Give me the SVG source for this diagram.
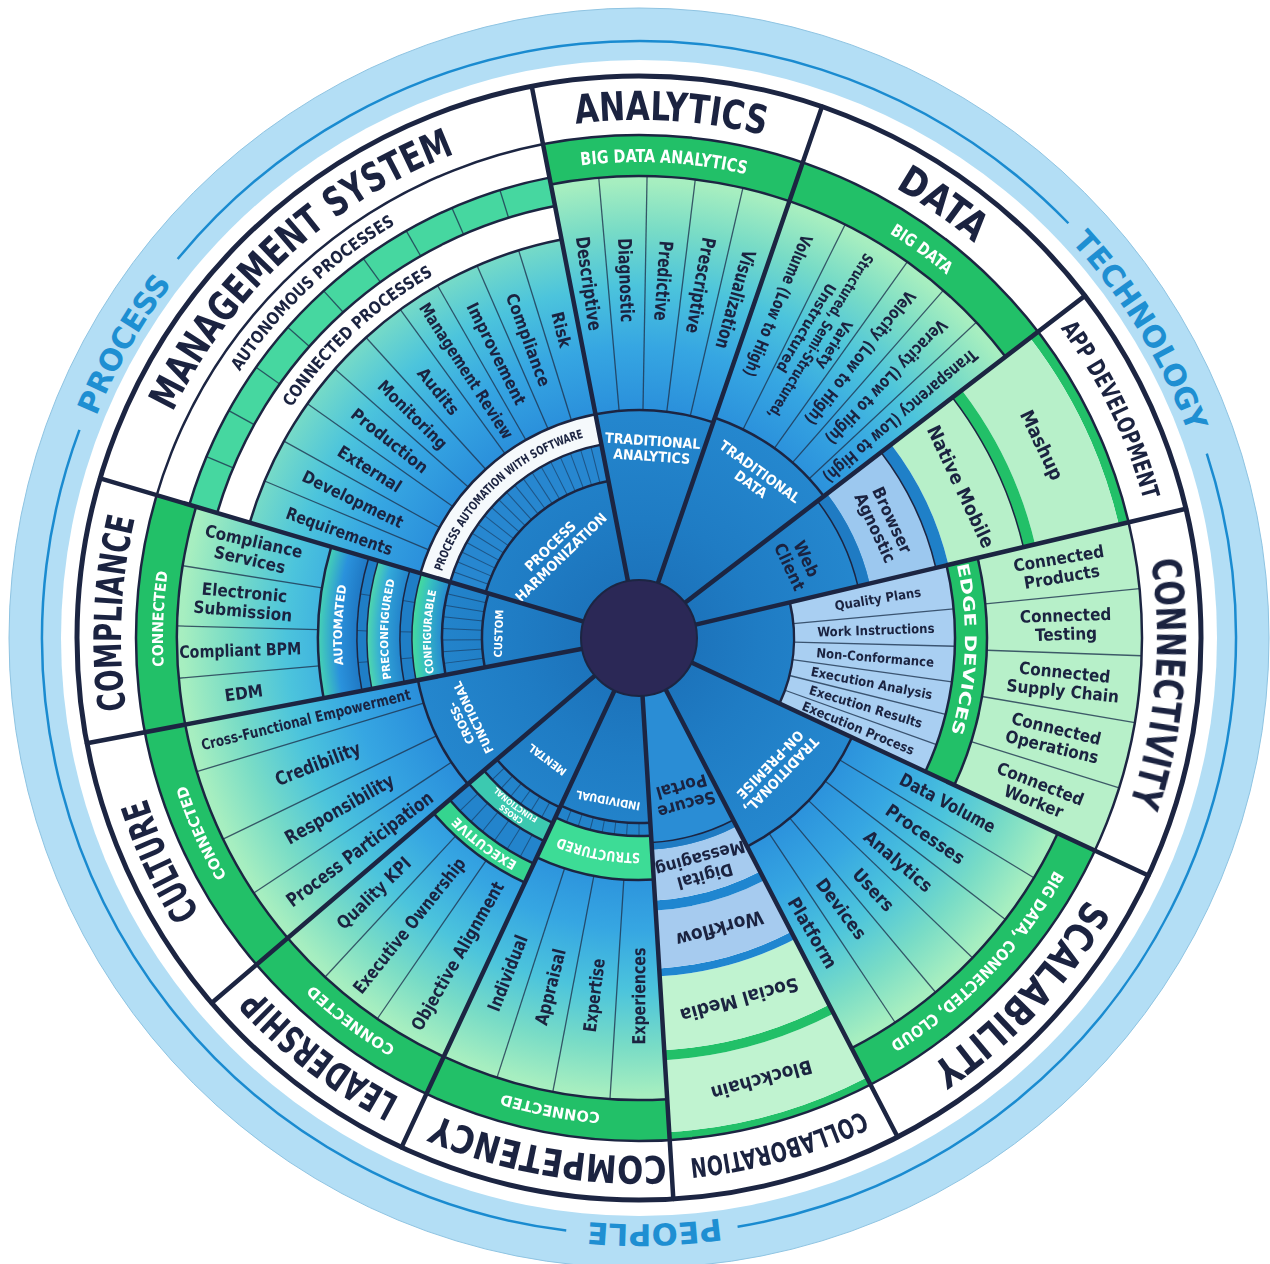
<svg xmlns="http://www.w3.org/2000/svg" width="1270" height="1264" viewBox="0 0 1270 1264">
<style>
.f{font-family:'Liberation Sans Narrow','Arial Narrow','DejaVu Sans Condensed','Roboto Condensed','Liberation Sans',sans-serif;font-weight:bold;font-stretch:condensed}
.cat{fill:#1b2340;font-size:40px;text-anchor:middle}
.sup{fill:#1e8fd2;font-size:30px;text-anchor:middle}
.gb{fill:#fff;font-size:16px;text-anchor:middle}
.nvt{fill:#1b2340;text-anchor:middle}
.it{fill:#1b2340;font-size:17px;text-anchor:middle;dominant-baseline:central}
.wt{fill:#fff;font-size:13px;text-anchor:middle;dominant-baseline:central}
.bd{fill:none}
.sl{stroke:#1c2542;stroke-width:4.5;stroke-linecap:round}
.dl{stroke:#1f3550;stroke-width:1.3;opacity:.8}
.tk{stroke:#1a3f66;stroke-width:1;opacity:.7}
.ra{fill:none;stroke:#1c2542;stroke-width:2.5}
.ra2{fill:none;stroke:#1c2542;stroke-width:1.5}
</style>
<defs>
<radialGradient id="itemG" gradientUnits="userSpaceOnUse" cx="0" cy="0" r="470">
<stop offset="0" stop-color="#1c7cc6"/><stop offset="0.48" stop-color="#2a8fdb"/><stop offset="0.62" stop-color="#36a6e2"/><stop offset="0.75" stop-color="#4cc4dc"/><stop offset="0.87" stop-color="#79dcc6"/><stop offset="0.97" stop-color="#a6eec0"/><stop offset="1" stop-color="#aaf0c2"/>
</radialGradient>
<radialGradient id="innerG" gradientUnits="userSpaceOnUse" cx="0" cy="0" r="240">
<stop offset="0" stop-color="#1a6cb4"/><stop offset="0.5" stop-color="#1f7cc4"/><stop offset="1" stop-color="#2588cf"/>
</radialGradient>
<radialGradient id="autoG" gradientUnits="userSpaceOnUse" cx="0" cy="0" r="321">
<stop offset="0.878" stop-color="#1f78c4"/><stop offset="0.94" stop-color="#2a92dc"/><stop offset="1" stop-color="#46d3b4"/>
</radialGradient>
<radialGradient id="preG" gradientUnits="userSpaceOnUse" cx="0" cy="0" r="272">
<stop offset="0.878" stop-color="#2384cc"/><stop offset="0.95" stop-color="#33a9d9"/><stop offset="1" stop-color="#4fd9ac"/>
</radialGradient>
<radialGradient id="cfgG" gradientUnits="userSpaceOnUse" cx="0" cy="0" r="227">
<stop offset="0.867" stop-color="#2689d2"/><stop offset="0.95" stop-color="#36c0c0"/><stop offset="1" stop-color="#45dc9c"/>
</radialGradient>
<path id="p586" d="M -586 0 A 586 586 0 1 1 586 0 A 586 586 0 1 1 -586 0"/>
<path id="p518" d="M -518 0 A 518 518 0 1 1 518 0 A 518 518 0 1 1 -518 0"/>
<path id="p523" d="M -523 0 A 523 523 0 1 1 523 0 A 523 523 0 1 1 -523 0"/>
<path id="p476" d="M -476 0 A 476 476 0 1 1 476 0 A 476 476 0 1 1 -476 0"/>
<path id="p480" d="M -480 0 A 480 480 0 1 1 480 0 A 480 480 0 1 1 -480 0"/>
<path id="p417" d="M -417 0 A 417 417 0 1 1 417 0 A 417 417 0 1 1 -417 0"/>
<path id="p208" d="M -208 0 A 208 208 0 1 1 208 0 A 208 208 0 1 1 -208 0"/>
<path id="p326" d="M -326 0 A 326 326 0 1 1 326 0 A 326 326 0 1 1 -326 0"/>
<path id="p215" d="M -215 0 A 215 215 0 1 1 215 0 A 215 215 0 1 1 -215 0"/>
<path id="p206" d="M -206 0 A 206 206 0 1 1 206 0 A 206 206 0 1 1 -206 0"/>
<path id="p255" d="M -255 0 A 255 255 0 1 1 255 0 A 255 255 0 1 1 -255 0"/>
<path id="p251" d="M -251 0 A 251 251 0 1 1 251 0 A 251 251 0 1 1 -251 0"/>
<path id="p297" d="M -297 0 A 297 297 0 1 1 297 0 A 297 297 0 1 1 -297 0"/>
</defs>
<g transform="translate(639 638)">
<g id="frame">
<circle r="630" fill="#b3def5" stroke="#8fc4e2" stroke-width="1"/>
<circle r="578" fill="#ffffff"/>
<circle r="562" fill="#ffffff" stroke="#1c2542" stroke-width="5"/>
<circle r="240" fill="url(#innerG)"/>
<circle class="bd" r="597" stroke="#1a8bd0" stroke-width="2.5" pathLength="360" stroke-dasharray="96.6 360" transform="rotate(219.4)"/>
<circle class="bd" r="597" stroke="#1a8bd0" stroke-width="2.5" pathLength="360" stroke-dasharray="98.5 360" transform="rotate(-18)"/>
<circle class="bd" r="597" stroke="#1a8bd0" stroke-width="2.5" pathLength="360" stroke-dasharray="103.4 360" transform="rotate(97)"/>
<text class="f sup" transform="rotate(299.7)"><textPath href="#p586" startOffset="25%" textLength="153" lengthAdjust="spacingAndGlyphs">PROCESS</textPath></text>
<text class="f sup" transform="rotate(58.5)"><textPath href="#p586" startOffset="25%" textLength="225" lengthAdjust="spacingAndGlyphs">TECHNOLOGY</textPath></text>
<text class="f sup" transform="rotate(178.5)"><textPath href="#p586" startOffset="25%" textLength="133" lengthAdjust="spacingAndGlyphs">PEOPLE</textPath></text>
</g>

<g id="management-system">
<circle class="bd" r="454.5" stroke="#46d7a0" stroke-width="29" pathLength="360" stroke-dasharray="62.5 360" transform="rotate(196.5)"/>
<circle class="bd" r="317" stroke="url(#itemG)" stroke-width="178" pathLength="360" stroke-dasharray="62.5 360" transform="rotate(196.5)"/>
<circle class="bd" r="212.5" stroke="#f5f9fc" stroke-width="31" pathLength="360" stroke-dasharray="62.5 360" transform="rotate(196.5)"/>
<circle class="bd" r="178.5" stroke="#2787d0" stroke-width="37" pathLength="360" stroke-dasharray="62.5 360" transform="rotate(196.5)"/>
<g class="dl">
<line y1="-228" y2="-406" transform="rotate(292.75)"/><line y1="-228" y2="-406" transform="rotate(299)"/><line y1="-228" y2="-406" transform="rotate(305.25)"/><line y1="-228" y2="-406" transform="rotate(311.5)"/><line y1="-228" y2="-406" transform="rotate(317.75)"/><line y1="-228" y2="-406" transform="rotate(324)"/><line y1="-228" y2="-406" transform="rotate(330.25)"/><line y1="-228" y2="-406" transform="rotate(336.5)"/><line y1="-228" y2="-406" transform="rotate(342.75)"/>
<line y1="-440" y2="-469" transform="rotate(292.75)"/><line y1="-440" y2="-469" transform="rotate(299)"/><line y1="-440" y2="-469" transform="rotate(305.25)"/><line y1="-440" y2="-469" transform="rotate(311.5)"/><line y1="-440" y2="-469" transform="rotate(317.75)"/><line y1="-440" y2="-469" transform="rotate(324)"/><line y1="-440" y2="-469" transform="rotate(330.25)"/><line y1="-440" y2="-469" transform="rotate(336.5)"/><line y1="-440" y2="-469" transform="rotate(342.75)"/>
</g>
<g class="tk">
<line y1="-160" y2="-197" transform="rotate(289.625)"/><line y1="-160" y2="-197" transform="rotate(292.75)"/><line y1="-160" y2="-197" transform="rotate(295.875)"/><line y1="-160" y2="-197" transform="rotate(299)"/><line y1="-160" y2="-197" transform="rotate(302.125)"/><line y1="-160" y2="-197" transform="rotate(305.25)"/><line y1="-160" y2="-197" transform="rotate(308.375)"/><line y1="-160" y2="-197" transform="rotate(311.5)"/><line y1="-160" y2="-197" transform="rotate(314.625)"/><line y1="-160" y2="-197" transform="rotate(317.75)"/><line y1="-160" y2="-197" transform="rotate(320.875)"/><line y1="-160" y2="-197" transform="rotate(324)"/><line y1="-160" y2="-197" transform="rotate(327.125)"/><line y1="-160" y2="-197" transform="rotate(330.25)"/><line y1="-160" y2="-197" transform="rotate(333.375)"/><line y1="-160" y2="-197" transform="rotate(336.5)"/><line y1="-160" y2="-197" transform="rotate(339.625)"/><line y1="-160" y2="-197" transform="rotate(342.75)"/><line y1="-160" y2="-197" transform="rotate(345.875)"/>
</g>
<circle class="ra" r="469" pathLength="360" stroke-dasharray="62.5 360" transform="rotate(196.5)"/>
<circle class="ra" r="440" pathLength="360" stroke-dasharray="62.5 360" transform="rotate(196.5)"/>
<circle class="ra" r="406" pathLength="360" stroke-dasharray="62.5 360" transform="rotate(196.5)"/>
<circle class="ra" r="228" pathLength="360" stroke-dasharray="62.5 360" transform="rotate(196.5)"/>
<circle class="ra" r="197" pathLength="360" stroke-dasharray="62.5 360" transform="rotate(196.5)"/>
<circle class="ra" r="160" pathLength="360" stroke-dasharray="62.5 360" transform="rotate(196.5)"/>
<text class="f cat" transform="rotate(317.5)"><textPath href="#p518" startOffset="25%" textLength="392" lengthAdjust="spacingAndGlyphs">MANAGEMENT SYSTEM</textPath></text>
<text class="f nvt" style="font-size:17px" transform="rotate(316.6)"><textPath href="#p480" startOffset="25%" textLength="216" lengthAdjust="spacingAndGlyphs">AUTONOMOUS PROCESSES</textPath></text>
<text class="f nvt" style="font-size:17px" transform="rotate(317)"><textPath href="#p417" startOffset="25%" textLength="196" lengthAdjust="spacingAndGlyphs">CONNECTED PROCESSES</textPath></text>
<text class="f nvt" style="font-size:12px" transform="rotate(316.6)"><textPath href="#p208" startOffset="25%" textLength="203" lengthAdjust="spacingAndGlyphs">PROCESS AUTOMATION WITH SOFTWARE</textPath></text>
<text class="f it" textLength="112" lengthAdjust="spacingAndGlyphs" transform="rotate(289.625) translate(0 -318) rotate(90)">Requirements</text>
<text class="f it" textLength="110" lengthAdjust="spacingAndGlyphs" transform="rotate(295.875) translate(0 -318) rotate(90)">Development</text>
<text class="f it" transform="rotate(302.125) translate(0 -318) rotate(90)">External</text>
<text class="f it" textLength="93" lengthAdjust="spacingAndGlyphs" transform="rotate(308.375) translate(0 -318) rotate(90)">Production</text>
<text class="f it" textLength="90" lengthAdjust="spacingAndGlyphs" transform="rotate(314.625) translate(0 -318) rotate(90)">Monitoring</text>
<text class="f it" transform="rotate(320.875) translate(0 -318) rotate(90)">Audits</text>
<text class="f it" textLength="158" lengthAdjust="spacingAndGlyphs" transform="rotate(327.125) translate(0 -318) rotate(90)">Management Review</text>
<text class="f it" textLength="112" lengthAdjust="spacingAndGlyphs" transform="rotate(333.375) translate(0 -318) rotate(90)">Improvement</text>
<text class="f it" textLength="98" lengthAdjust="spacingAndGlyphs" transform="rotate(339.625) translate(0 -318) rotate(90)">Compliance</text>
<text class="f it" transform="rotate(345.875) translate(0 -318) rotate(90)">Risk</text>
<text class="f wt" style="font-size:14px" transform="rotate(316) translate(0 -120)"><tspan x="0" dy="-0.55em">PROCESS</tspan><tspan x="0" dy="1.1em">HARMONIZATION</tspan></text>
</g>

<g id="analytics">
<circle class="bd" r="482.5" stroke="#22c068" stroke-width="41" pathLength="360" stroke-dasharray="30 360" transform="rotate(-101)"/>
<circle class="bd" r="345" stroke="url(#itemG)" stroke-width="234" pathLength="360" stroke-dasharray="30 360" transform="rotate(-101)"/>
<g class="dl"><line y1="-228" y2="-462" transform="rotate(-5)"/><line y1="-228" y2="-462" transform="rotate(1)"/><line y1="-228" y2="-462" transform="rotate(7)"/><line y1="-228" y2="-462" transform="rotate(13)"/></g>
<circle class="ra" r="462" pathLength="360" stroke-dasharray="30 360" transform="rotate(-101)"/>
<circle class="ra" r="228" pathLength="360" stroke-dasharray="30 360" transform="rotate(-101)"/>
<text class="f cat" transform="rotate(3.5)"><textPath href="#p518" startOffset="25%" textLength="190" lengthAdjust="spacingAndGlyphs">ANALYTICS</textPath></text>
<text class="f gb" style="font-size:18px" transform="rotate(3)"><textPath href="#p476" startOffset="25%" textLength="166" lengthAdjust="spacingAndGlyphs">BIG DATA ANALYTICS</textPath></text>
<text class="f it" style="font-size:19px" textLength="95" lengthAdjust="spacingAndGlyphs" transform="rotate(-8) translate(0 -358) rotate(90)">Descriptive</text>
<text class="f it" style="font-size:19px" textLength="84" lengthAdjust="spacingAndGlyphs" transform="rotate(-2) translate(0 -358) rotate(90)">Diagnostic</text>
<text class="f it" style="font-size:19px" textLength="80" lengthAdjust="spacingAndGlyphs" transform="rotate(4) translate(0 -358) rotate(90)">Predictive</text>
<text class="f it" style="font-size:19px" textLength="97" lengthAdjust="spacingAndGlyphs" transform="rotate(10) translate(0 -358) rotate(90)">Prescriptive</text>
<text class="f it" style="font-size:19px" textLength="102" lengthAdjust="spacingAndGlyphs" transform="rotate(16) translate(0 -352) rotate(90)">Visualization</text>
<text class="f wt" style="font-size:14px" transform="rotate(4) translate(0 -190)"><tspan x="0" dy="-0.55em">TRADITIONAL</tspan><tspan x="0" dy="1.1em">ANALYTICS</tspan></text>
</g>

<g id="data">
<circle class="bd" r="482.5" stroke="#22c068" stroke-width="41" pathLength="360" stroke-dasharray="33.5 360" transform="rotate(-71)"/>
<circle class="bd" r="347.5" stroke="url(#itemG)" stroke-width="229" pathLength="360" stroke-dasharray="33.5 360" transform="rotate(-71)"/>
<g class="dl"><line y1="-233" y2="-462" transform="rotate(26.5)"/><line y1="-233" y2="-462" transform="rotate(35.5)"/><line y1="-233" y2="-462" transform="rotate(41.2)"/><line y1="-233" y2="-462" transform="rotate(46.9)"/></g>
<circle class="ra" r="462" pathLength="360" stroke-dasharray="33.5 360" transform="rotate(-71)"/>
<circle class="ra" r="233" pathLength="360" stroke-dasharray="33.5 360" transform="rotate(-71)"/>
<text class="f cat" transform="rotate(35)"><textPath href="#p518" startOffset="25%" textLength="97" lengthAdjust="spacingAndGlyphs">DATA</textPath></text>
<text class="f gb" style="font-size:17px" transform="rotate(36)"><textPath href="#p476" startOffset="25%" textLength="71" lengthAdjust="spacingAndGlyphs">BIG DATA</textPath></text>
<text class="f it" style="font-size:17px" textLength="152" lengthAdjust="spacingAndGlyphs" transform="rotate(22.75) translate(0 -360) rotate(90)">Volume (Low to High)</text>
<text class="f it" style="font-size:15px" transform="rotate(31) translate(0 -352) rotate(90)"><tspan x="0" dy="-1.1em">Variety</tspan><tspan x="0" dy="1.1em" textLength="190" lengthAdjust="spacingAndGlyphs">Structured, Semi-Structured,</tspan><tspan x="0" dy="1.1em">Unstructured</tspan></text>
<text class="f it" style="font-size:17px" textLength="166" lengthAdjust="spacingAndGlyphs" transform="rotate(38.35) translate(0 -357) rotate(90)">Velocity (Low to High)</text>
<text class="f it" style="font-size:17px" textLength="166" lengthAdjust="spacingAndGlyphs" transform="rotate(44.05) translate(0 -356) rotate(90)">Veracity (Low to High)</text>
<text class="f it" style="font-size:17px" textLength="196" lengthAdjust="spacingAndGlyphs" transform="rotate(49.7) translate(0 -343) rotate(90)">Transparency (Low to High)</text>
<text class="f wt" style="font-size:14px" transform="rotate(36) translate(0 -198)"><tspan x="0" dy="-0.55em">TRADITIONAL</tspan><tspan x="0" dy="1.1em">DATA</tspan></text>
</g>

<g id="app-development">
<circle class="bd" r="498" stroke="#22c068" stroke-width="10" pathLength="360" stroke-dasharray="24.2 360" transform="rotate(-37.5)"/>
<circle class="bd" r="450" stroke="#b7f0c9" stroke-width="86" pathLength="360" stroke-dasharray="24.2 360" transform="rotate(-37.5)"/>
<circle class="bd" r="401" stroke="#22c068" stroke-width="12" pathLength="360" stroke-dasharray="24.2 360" transform="rotate(-37.5)"/>
<circle class="bd" r="356.5" stroke="#b7f0c9" stroke-width="77" pathLength="360" stroke-dasharray="24.2 360" transform="rotate(-37.5)"/>
<circle class="bd" r="311.5" stroke="#1f80c8" stroke-width="13" pathLength="360" stroke-dasharray="24.2 360" transform="rotate(-37.5)"/>
<circle class="bd" r="271" stroke="#9cc8ef" stroke-width="68" pathLength="360" stroke-dasharray="24.2 360" transform="rotate(-37.5)"/>
<circle class="bd" r="231" stroke="#1f7bc3" stroke-width="12" pathLength="360" stroke-dasharray="24.2 360" transform="rotate(-37.5)"/>
<circle class="ra2" r="395" pathLength="360" stroke-dasharray="24.2 360" transform="rotate(-37.5)"/>
<circle class="ra2" r="305" pathLength="360" stroke-dasharray="24.2 360" transform="rotate(-37.5)"/>
<circle class="ra2" r="225" pathLength="360" stroke-dasharray="24.2 360" transform="rotate(-37.5)"/>
<text class="f nvt" style="font-size:24px" transform="rotate(64.2)"><textPath href="#p523" startOffset="25%" textLength="192" lengthAdjust="spacingAndGlyphs">APP DEVELOPMENT</textPath></text>
<text class="f it" style="font-size:19px" transform="rotate(64.4) translate(0 -447)">Mashup</text>
<text class="f it" style="font-size:19px" transform="rotate(64.8) translate(0 -356)">Native Mobile</text>
<text class="f it" style="font-size:17px" transform="rotate(65) translate(0 -270)"><tspan x="0" dy="-0.55em">Browser</tspan><tspan x="0" dy="1.1em">Agnostic</tspan></text>
<text class="f it" style="font-size:17px" transform="rotate(64.7) translate(0 -176)"><tspan x="0" dy="-0.55em">Web</tspan><tspan x="0" dy="1.1em">Client</tspan></text>
</g>

<g id="connectivity">
<circle class="bd" r="425.5" stroke="#b7f0c9" stroke-width="155" pathLength="360" stroke-dasharray="38.3 360" transform="rotate(-13.3)"/>
<circle class="bd" r="332" stroke="#22c068" stroke-width="32" pathLength="360" stroke-dasharray="38.3 360" transform="rotate(-13.3)"/>
<circle class="bd" r="235.5" stroke="#a9cff2" stroke-width="161" pathLength="360" stroke-dasharray="38.3 360" transform="rotate(-13.3)"/>
<g class="dl"><line y1="-348" y2="-503" transform="rotate(84.36)"/><line y1="-348" y2="-503" transform="rotate(92.02)"/><line y1="-348" y2="-503" transform="rotate(99.68)"/><line y1="-348" y2="-503" transform="rotate(107.34)"/>
<line y1="-155" y2="-316" transform="rotate(84.7)"/><line y1="-155" y2="-316" transform="rotate(91.5)"/><line y1="-155" y2="-316" transform="rotate(98)"/><line y1="-155" y2="-316" transform="rotate(104)"/><line y1="-155" y2="-316" transform="rotate(109.7)"/></g>
<circle class="ra" r="348" pathLength="360" stroke-dasharray="38.3 360" transform="rotate(-13.3)"/>
<circle class="ra" r="316" pathLength="360" stroke-dasharray="38.3 360" transform="rotate(-13.3)"/>
<circle class="ra" r="155" pathLength="360" stroke-dasharray="38.3 360" transform="rotate(-13.3)"/>
<text class="f cat" transform="rotate(95)"><textPath href="#p518" startOffset="25%" textLength="247" lengthAdjust="spacingAndGlyphs">CONNECTIVITY</textPath></text>
<text class="f gb" transform="rotate(92)"><textPath href="#p326" startOffset="25%" textLength="171" lengthAdjust="spacingAndGlyphs">EDGE DEVICES</textPath></text>
<text class="f it" transform="rotate(80.5) translate(0 -427) rotate(-90)"><tspan x="0" dy="-0.55em">Connected</tspan><tspan x="0" dy="1.1em">Products</tspan></text>
<text class="f it" transform="rotate(88.2) translate(0 -427) rotate(-90)"><tspan x="0" dy="-0.55em">Connected</tspan><tspan x="0" dy="1.1em">Testing</tspan></text>
<text class="f it" transform="rotate(95.85) translate(0 -427) rotate(-90)"><tspan x="0" dy="-0.55em">Connected</tspan><tspan x="0" dy="1.1em">Supply Chain</tspan></text>
<text class="f it" transform="rotate(103.5) translate(0 -427) rotate(-90)"><tspan x="0" dy="-0.55em">Connected</tspan><tspan x="0" dy="1.1em">Operations</tspan></text>
<text class="f it" transform="rotate(111.2) translate(0 -427) rotate(-90)"><tspan x="0" dy="-0.55em">Connected</tspan><tspan x="0" dy="1.1em">Worker</tspan></text>
<text class="f it" style="font-size:13px" transform="rotate(80.7) translate(0 -242) rotate(-90)">Quality Plans</text>
<text class="f it" style="font-size:13px" transform="rotate(88.1) translate(0 -237) rotate(-90)">Work Instructions</text>
<text class="f it" style="font-size:13px" transform="rotate(94.75) translate(0 -237) rotate(-90)">Non-Conformance</text>
<text class="f it" style="font-size:13px" transform="rotate(101) translate(0 -237) rotate(-90)">Execution Analysis</text>
<text class="f it" style="font-size:13px" transform="rotate(106.85) translate(0 -237) rotate(-90)">Execution Results</text>
<text class="f it" style="font-size:13px" transform="rotate(112.35) translate(0 -237) rotate(-90)">Execution Process</text>
</g>

<g id="scalability">
<circle class="bd" r="482.5" stroke="#22c068" stroke-width="41" pathLength="360" stroke-dasharray="37.6 360" transform="rotate(25)"/>
<circle class="bd" r="348.5" stroke="url(#itemG)" stroke-width="227" pathLength="360" stroke-dasharray="37.6 360" transform="rotate(25)"/>
<g class="dl"><line y1="-235" y2="-462" transform="rotate(121.27)"/><line y1="-235" y2="-462" transform="rotate(127.53)"/><line y1="-235" y2="-462" transform="rotate(133.8)"/><line y1="-235" y2="-462" transform="rotate(140.07)"/><line y1="-235" y2="-462" transform="rotate(146.33)"/></g>
<circle class="ra" r="462" pathLength="360" stroke-dasharray="37.6 360" transform="rotate(25)"/>
<circle class="ra" r="235" pathLength="360" stroke-dasharray="37.6 360" transform="rotate(25)"/>
<text class="f cat" transform="rotate(133)"><textPath href="#p518" startOffset="25%" textLength="231" lengthAdjust="spacingAndGlyphs">SCALABILITY</textPath></text>
<text class="f gb" transform="rotate(133.7)"><textPath href="#p476" startOffset="25%" textLength="241" lengthAdjust="spacingAndGlyphs">BIG DATA, CONNECTED, CLOUD</textPath></text>
<text class="f it" style="font-size:18px" textLength="106" lengthAdjust="spacingAndGlyphs" transform="rotate(118.1) translate(0 -350) rotate(-90)">Data Volume</text>
<text class="f it" style="font-size:18px" transform="rotate(124.4) translate(0 -347) rotate(-90)">Processes</text>
<text class="f it" style="font-size:18px" transform="rotate(130.7) translate(0 -342) rotate(-90)">Analytics</text>
<text class="f it" style="font-size:18px" transform="rotate(137) translate(0 -344) rotate(-90)">Users</text>
<text class="f it" style="font-size:18px" transform="rotate(143.2) translate(0 -338) rotate(-90)">Devices</text>
<text class="f it" style="font-size:18px" transform="rotate(149.5) translate(0 -342) rotate(-90)">Platform</text>
<text class="f wt" style="font-size:14px" transform="rotate(134) translate(0 -190)"><tspan x="0" dy="-0.55em">TRADITIONAL,</tspan><tspan x="0" dy="1.1em">ON-PREMISE</tspan></text>
</g>

<g id="collaboration">
<circle class="bd" r="499" stroke="#22c068" stroke-width="8" pathLength="360" stroke-dasharray="23.9 360" transform="rotate(62.6)"/>
<circle class="bd" r="459" stroke="#c0f3d0" stroke-width="72" pathLength="360" stroke-dasharray="23.9 360" transform="rotate(62.6)"/>
<circle class="bd" r="418" stroke="#22c068" stroke-width="10" pathLength="360" stroke-dasharray="23.9 360" transform="rotate(62.6)"/>
<circle class="bd" r="376" stroke="#c0f3d0" stroke-width="74" pathLength="360" stroke-dasharray="23.9 360" transform="rotate(62.6)"/>
<circle class="bd" r="335" stroke="#1f86d0" stroke-width="8" pathLength="360" stroke-dasharray="23.9 360" transform="rotate(62.6)"/>
<circle class="bd" r="302" stroke="#a6cbef" stroke-width="58" pathLength="360" stroke-dasharray="23.9 360" transform="rotate(62.6)"/>
<circle class="bd" r="268" stroke="#1f86d0" stroke-width="10" pathLength="360" stroke-dasharray="23.9 360" transform="rotate(62.6)"/>
<circle class="bd" r="237.5" stroke="#a6cbef" stroke-width="51" pathLength="360" stroke-dasharray="23.9 360" transform="rotate(62.6)"/>
<circle class="bd" r="208.5" stroke="#1f7bc3" stroke-width="7" pathLength="360" stroke-dasharray="23.9 360" transform="rotate(62.6)"/>
<circle class="bd" r="131" stroke="#2a8dd5" stroke-width="148" pathLength="360" stroke-dasharray="23.9 360" transform="rotate(62.6)"/>
<circle class="ra2" r="205" pathLength="360" stroke-dasharray="23.9 360" transform="rotate(62.6)"/>
<text class="f nvt" style="font-size:27px" transform="rotate(164.6)"><textPath href="#p523" startOffset="25%" textLength="180" lengthAdjust="spacingAndGlyphs">COLLABORATION</textPath></text>
<text class="f it" style="font-size:19px" transform="rotate(164.5) translate(0 -459)">Blockchain</text>
<text class="f it" style="font-size:19px" transform="rotate(164.5) translate(0 -376)">Social Media</text>
<text class="f it" style="font-size:19px" transform="rotate(164.5) translate(0 -302)">Workflow</text>
<text class="f it" style="font-size:17px" transform="rotate(164.5) translate(0 -238)"><tspan x="0" dy="-0.55em">Digital</tspan><tspan x="0" dy="1.1em">Messaging</tspan></text>
<text class="f it" style="font-size:17px" transform="rotate(164) translate(0 -164)"><tspan x="0" dy="-0.55em">Secure</tspan><tspan x="0" dy="1.1em">Portal</tspan></text>
</g>

<g id="competency">
<circle class="bd" r="482.5" stroke="#22c068" stroke-width="41" pathLength="360" stroke-dasharray="28.5 360" transform="rotate(86.5)"/>
<circle class="bd" r="352" stroke="url(#itemG)" stroke-width="220" pathLength="360" stroke-dasharray="28.5 360" transform="rotate(86.5)"/>
<circle class="bd" r="220" stroke="#3ddc96" stroke-width="44" pathLength="360" stroke-dasharray="28.5 360" transform="rotate(86.5)"/>
<g class="dl"><line y1="-242" y2="-462" transform="rotate(183.6)"/><line y1="-242" y2="-462" transform="rotate(190.75)"/><line y1="-242" y2="-462" transform="rotate(197.9)"/></g>
<g class="tk"><line y1="-185" y2="-198" transform="rotate(180)"/><line y1="-185" y2="-198" transform="rotate(183.6)"/><line y1="-185" y2="-198" transform="rotate(187.2)"/><line y1="-185" y2="-198" transform="rotate(190.75)"/><line y1="-185" y2="-198" transform="rotate(194.3)"/><line y1="-185" y2="-198" transform="rotate(197.9)"/><line y1="-185" y2="-198" transform="rotate(201.5)"/></g>
<circle class="ra" r="462" pathLength="360" stroke-dasharray="28.5 360" transform="rotate(86.5)"/>
<circle class="ra" r="242" pathLength="360" stroke-dasharray="28.5 360" transform="rotate(86.5)"/>
<circle class="ra" r="198" pathLength="360" stroke-dasharray="28.5 360" transform="rotate(86.5)"/>
<circle class="ra" r="185" pathLength="360" stroke-dasharray="28.5 360" transform="rotate(86.5)"/>
<text class="f cat" style="font-size:38px" transform="rotate(190)"><textPath href="#p518" startOffset="25%" textLength="235" lengthAdjust="spacingAndGlyphs">COMPETENCY</textPath></text>
<text class="f gb" style="font-size:15px" transform="rotate(190.7)"><textPath href="#p476" startOffset="25%" textLength="100" lengthAdjust="spacingAndGlyphs">CONNECTED</textPath></text>
<text class="f gb" style="font-size:14px" transform="rotate(190.8)"><textPath href="#p215" startOffset="25%" textLength="83" lengthAdjust="spacingAndGlyphs">STRUCTURED</textPath></text>
<text class="f it" style="font-size:18px" textLength="80" lengthAdjust="spacingAndGlyphs" transform="rotate(201.45) translate(0 -360) rotate(90)">Individual</text>
<text class="f it" style="font-size:18px" textLength="78" lengthAdjust="spacingAndGlyphs" transform="rotate(194.3) translate(0 -360) rotate(90)">Appraisal</text>
<text class="f it" style="font-size:18px" textLength="74" lengthAdjust="spacingAndGlyphs" transform="rotate(187.2) translate(0 -360) rotate(90)">Expertise</text>
<text class="f it" style="font-size:18px" textLength="97" lengthAdjust="spacingAndGlyphs" transform="rotate(180.05) translate(0 -358) rotate(90)">Experiences</text>
<text class="f wt" style="font-size:11px" transform="rotate(190.8) translate(0 -165)">INDIVIDUAL</text>
</g>

<g id="leadership">
<circle class="bd" r="482.5" stroke="#22c068" stroke-width="41" pathLength="360" stroke-dasharray="24.5 360" transform="rotate(115)"/>
<circle class="bd" r="366" stroke="url(#itemG)" stroke-width="192" pathLength="360" stroke-dasharray="24.5 360" transform="rotate(115)"/>
<circle class="bd" r="259.5" stroke="#35d48f" stroke-width="21" pathLength="360" stroke-dasharray="24.5 360" transform="rotate(115)"/>
<circle class="bd" r="236.5" stroke="#2384cc" stroke-width="25" pathLength="360" stroke-dasharray="24.5 360" transform="rotate(115)"/>
<circle class="bd" r="214" stroke="#3cc9b0" stroke-width="20" pathLength="360" stroke-dasharray="24.5 360" transform="rotate(115)"/>
<g class="dl"><line y1="-270" y2="-462" transform="rotate(214.5)"/><line y1="-270" y2="-462" transform="rotate(222.8)"/></g>
<g class="tk"><line y1="-187" y2="-204" transform="rotate(208.5)"/><line y1="-187" y2="-204" transform="rotate(212)"/><line y1="-187" y2="-204" transform="rotate(215.5)"/><line y1="-187" y2="-204" transform="rotate(219)"/><line y1="-187" y2="-204" transform="rotate(222.5)"/><line y1="-187" y2="-204" transform="rotate(226)"/>
<line y1="-224" y2="-249" transform="rotate(208.5)"/><line y1="-224" y2="-249" transform="rotate(212)"/><line y1="-224" y2="-249" transform="rotate(215.5)"/><line y1="-224" y2="-249" transform="rotate(219)"/><line y1="-224" y2="-249" transform="rotate(222.5)"/><line y1="-224" y2="-249" transform="rotate(226)"/></g>
<circle class="ra" r="462" pathLength="360" stroke-dasharray="24.5 360" transform="rotate(115)"/>
<circle class="ra" r="270" pathLength="360" stroke-dasharray="24.5 360" transform="rotate(115)"/>
<circle class="ra" r="249" pathLength="360" stroke-dasharray="24.5 360" transform="rotate(115)"/>
<circle class="ra" r="224" pathLength="360" stroke-dasharray="24.5 360" transform="rotate(115)"/>
<circle class="ra" r="204" pathLength="360" stroke-dasharray="24.5 360" transform="rotate(115)"/>
<circle class="ra" r="187" pathLength="360" stroke-dasharray="24.5 360" transform="rotate(115)"/>
<text class="f cat" style="font-size:38px" transform="rotate(217.5)"><textPath href="#p518" startOffset="25%" textLength="181" lengthAdjust="spacingAndGlyphs">LEADERSHIP</textPath></text>
<text class="f gb" style="font-size:15px" transform="rotate(217)"><textPath href="#p476" startOffset="25%" textLength="104" lengthAdjust="spacingAndGlyphs">CONNECTED</textPath></text>
<text class="f gb" style="font-size:13px" transform="rotate(217)"><textPath href="#p255" startOffset="25%" textLength="76" lengthAdjust="spacingAndGlyphs">EXECUTIVE</textPath></text>
<text class="f gb" style="font-size:8px" transform="rotate(216)"><textPath href="#p215" startOffset="25%">CROSS</textPath></text>
<text class="f gb" style="font-size:8px" transform="rotate(216.5)"><textPath href="#p206" startOffset="25%">FUNCTIONAL</textPath></text>
<text class="f it" style="font-size:18px" textLength="95" lengthAdjust="spacingAndGlyphs" transform="rotate(226.15) translate(0 -368) rotate(90)">Quality KPI</text>
<text class="f it" style="font-size:18px" textLength="168" lengthAdjust="spacingAndGlyphs" transform="rotate(218.65) translate(0 -368) rotate(90)">Executive Ownership</text>
<text class="f it" style="font-size:18px" textLength="168" lengthAdjust="spacingAndGlyphs" transform="rotate(209.75) translate(0 -366) rotate(90)">Objective Alignment</text>
<text class="f wt" style="font-size:11px" transform="rotate(217) translate(0 -152)">MENTAL</text>
</g>

<g id="culture">
<circle class="bd" r="482.5" stroke="#22c068" stroke-width="41" pathLength="360" stroke-dasharray="29.7 360" transform="rotate(139.5)"/>
<circle class="bd" r="343.5" stroke="url(#itemG)" stroke-width="237" pathLength="360" stroke-dasharray="29.7 360" transform="rotate(139.5)"/>
<g class="dl"><line y1="-225" y2="-462" transform="rotate(236.5)"/><line y1="-225" y2="-462" transform="rotate(244.2)"/><line y1="-225" y2="-462" transform="rotate(253.2)"/></g>
<circle class="ra" r="462" pathLength="360" stroke-dasharray="29.7 360" transform="rotate(139.5)"/>
<circle class="ra" r="225" pathLength="360" stroke-dasharray="29.7 360" transform="rotate(139.5)"/>
<text class="f cat" style="font-size:38px" transform="rotate(245)"><textPath href="#p518" startOffset="25%" textLength="127" lengthAdjust="spacingAndGlyphs">CULTURE</textPath></text>
<text class="f gb" style="font-size:15px" transform="rotate(246)"><textPath href="#p476" startOffset="25%" textLength="100" lengthAdjust="spacingAndGlyphs">CONNECTED</textPath></text>
<text class="f it" style="font-size:15px" textLength="215" lengthAdjust="spacingAndGlyphs" transform="rotate(256.2) translate(0 -343) rotate(90)">Cross-Functional Empowerment</text>
<text class="f it" style="font-size:19px" textLength="90" lengthAdjust="spacingAndGlyphs" transform="rotate(248.7) translate(0 -345) rotate(90)">Credibility</text>
<text class="f it" style="font-size:19px" textLength="122" lengthAdjust="spacingAndGlyphs" transform="rotate(240.35) translate(0 -345) rotate(90)">Responsibility</text>
<text class="f it" style="font-size:19px" textLength="178" lengthAdjust="spacingAndGlyphs" transform="rotate(233) translate(0 -350) rotate(90)">Process Participation</text>
<text class="f wt" style="font-size:12px" transform="rotate(244.4) translate(0 -190)"><tspan x="0" dy="-0.55em">CROSS-</tspan><tspan x="0" dy="1.1em">FUNCTIONAL</tspan></text>
</g>

<g id="compliance">
<circle class="bd" r="482.5" stroke="#22c068" stroke-width="41" pathLength="360" stroke-dasharray="27.3 360" transform="rotate(169.2)"/>
<circle class="bd" r="391.5" stroke="url(#itemG)" stroke-width="141" pathLength="360" stroke-dasharray="27.3 360" transform="rotate(169.2)"/>
<circle class="bd" r="301.5" stroke="url(#autoG)" stroke-width="39" pathLength="360" stroke-dasharray="27.3 360" transform="rotate(169.2)"/>
<circle class="bd" r="277" stroke="#1f7ec6" stroke-width="10" pathLength="360" stroke-dasharray="27.3 360" transform="rotate(169.2)"/>
<circle class="bd" r="255.5" stroke="url(#preG)" stroke-width="33" pathLength="360" stroke-dasharray="27.3 360" transform="rotate(169.2)"/>
<circle class="bd" r="233" stroke="#1f7ec6" stroke-width="12" pathLength="360" stroke-dasharray="27.3 360" transform="rotate(169.2)"/>
<circle class="bd" r="212" stroke="url(#cfgG)" stroke-width="30" pathLength="360" stroke-dasharray="27.3 360" transform="rotate(169.2)"/>
<g class="dl"><line y1="-321" y2="-462" transform="rotate(265)"/><line y1="-321" y2="-462" transform="rotate(271.5)"/><line y1="-321" y2="-462" transform="rotate(279)"/></g>
<g class="tk"><line y1="-157" y2="-197" transform="rotate(262.6)"/><line y1="-157" y2="-197" transform="rotate(266)"/><line y1="-157" y2="-197" transform="rotate(269.4)"/><line y1="-157" y2="-197" transform="rotate(272.8)"/><line y1="-157" y2="-197" transform="rotate(276.2)"/><line y1="-157" y2="-197" transform="rotate(279.6)"/><line y1="-157" y2="-197" transform="rotate(283)"/>
<line y1="-272" y2="-282" transform="rotate(265)"/><line y1="-272" y2="-282" transform="rotate(271.5)"/><line y1="-272" y2="-282" transform="rotate(279)"/><line y1="-227" y2="-239" transform="rotate(265)"/><line y1="-227" y2="-239" transform="rotate(271.5)"/><line y1="-227" y2="-239" transform="rotate(279)"/></g>
<circle class="ra" r="462" pathLength="360" stroke-dasharray="27.3 360" transform="rotate(169.2)"/>
<circle class="ra" r="321" pathLength="360" stroke-dasharray="27.3 360" transform="rotate(169.2)"/>
<circle class="ra2" r="282" pathLength="360" stroke-dasharray="27.3 360" transform="rotate(169.2)"/>
<circle class="ra2" r="272" pathLength="360" stroke-dasharray="27.3 360" transform="rotate(169.2)"/>
<circle class="ra2" r="239" pathLength="360" stroke-dasharray="27.3 360" transform="rotate(169.2)"/>
<circle class="ra2" r="227" pathLength="360" stroke-dasharray="27.3 360" transform="rotate(169.2)"/>
<circle class="ra" r="197" pathLength="360" stroke-dasharray="27.3 360" transform="rotate(169.2)"/>
<circle class="ra" r="157" pathLength="360" stroke-dasharray="27.3 360" transform="rotate(169.2)"/>
<text class="f cat" style="font-size:38px" transform="rotate(272.7)"><textPath href="#p518" startOffset="25%" textLength="193" lengthAdjust="spacingAndGlyphs">COMPLIANCE</textPath></text>
<text class="f gb" style="font-size:15px" transform="rotate(272.3)"><textPath href="#p476" startOffset="25%" textLength="95" lengthAdjust="spacingAndGlyphs">CONNECTED</textPath></text>
<text class="f gb" style="font-size:12px" transform="rotate(272.5)"><textPath href="#p297" startOffset="25%" textLength="80" lengthAdjust="spacingAndGlyphs">AUTOMATED</textPath></text>
<text class="f gb" style="font-size:11px" transform="rotate(272)"><textPath href="#p251" startOffset="25%" textLength="100" lengthAdjust="spacingAndGlyphs">PRECONFIGURED</textPath></text>
<text class="f gb" style="font-size:11px" transform="rotate(271.7)"><textPath href="#p208" startOffset="25%" textLength="83" lengthAdjust="spacingAndGlyphs">CONFIGURABLE</textPath></text>
<text class="f it" transform="rotate(282.75) translate(0 -397) rotate(90)"><tspan x="0" dy="-0.55em">Compliance</tspan><tspan x="0" dy="1.1em">Services</tspan></text>
<text class="f it" transform="rotate(275.25) translate(0 -397) rotate(90)"><tspan x="0" dy="-0.55em">Electronic</tspan><tspan x="0" dy="1.1em">Submission</tspan></text>
<text class="f it" textLength="122" lengthAdjust="spacingAndGlyphs" transform="rotate(268.25) translate(0 -399) rotate(90)">Compliant BPM</text>
<text class="f it" transform="rotate(262.1) translate(0 -399) rotate(90)">EDM</text>
<text class="f wt" style="font-size:11px" transform="rotate(271.8) translate(0 -140)">CUSTOM</text>
</g>

<g id="connectors">
<circle class="ra" r="503"/>
<g class="sl">
<line y1="-55" y2="-562" transform="rotate(349)"/>
<line y1="-55" y2="-562" transform="rotate(19)"/>
<line y1="-55" y2="-562" transform="rotate(52.5)"/>
<line y1="-55" y2="-562" transform="rotate(76.7)"/>
<line y1="-55" y2="-562" transform="rotate(115)"/>
<line y1="-55" y2="-562" transform="rotate(152.6)"/>
<line y1="-55" y2="-562" transform="rotate(176.5)"/>
<line y1="-55" y2="-562" transform="rotate(205)"/>
<line y1="-55" y2="-562" transform="rotate(229.5)"/>
<line y1="-55" y2="-562" transform="rotate(259.2)"/>
<line y1="-55" y2="-562" transform="rotate(286.5)"/>
</g>
</g>
<g id="hub">
<circle r="58" fill="#2b2856" stroke="#1c2542" stroke-width="2"/>
</g>
</g>
</svg>
